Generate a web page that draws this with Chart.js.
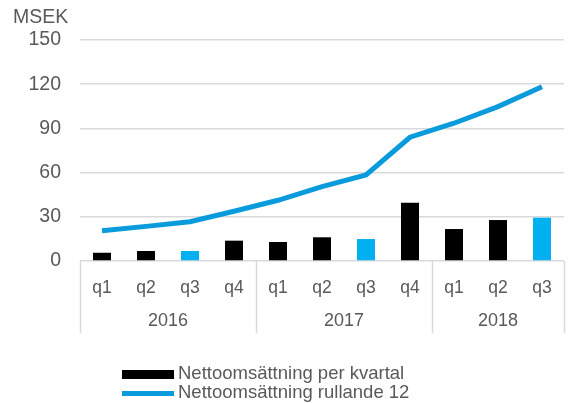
<!DOCTYPE html>
<html lang="sv">
<head>
<meta charset="UTF-8">
<title>Nettoomsättning</title>
<script src="https://cdn.jsdelivr.net/npm/chart.js"></script>
<style>
  body { margin: 0; background: #fff; font-family: "Liberation Sans", Arial, sans-serif; }
  #wrap { position: relative; width: 568px; height: 403px; }
  #unit { position: absolute; left: 13px; top: 5px; font-size: 19.5px; color: #595959; }
  .leg { position: absolute; left: 122px; font-size: 18.5px; color: #595959; line-height: 18px; }
  .leg span { display: inline-block; width: 52px; vertical-align: middle; margin-right: 4px; }
</style>
</head>
<body>
<div id="wrap">
  <canvas id="chart" width="568" height="403"></canvas>
  <div id="unit">MSEK</div>
  <div class="leg" style="top:364px"><span style="height:9px;background:#000"></span>Nettoomsättning per kvartal</div>
  <div class="leg" style="top:383px"><span style="height:5px;background:#0a9bdc"></span>Nettoomsättning rullande 12</div>
</div>
<script>
const quarters = ['q1', 'q2', 'q3', 'q4', 'q1', 'q2', 'q3', 'q4', 'q1', 'q2', 'q3'];
const years = ['2016', '2016', '2016', '2016', '2017', '2017', '2017', '2017', '2018', '2018', '2018'];
const perQuarter = [5.6, 6.8, 6.8, 13.8, 12.9, 16.1, 14.9, 39.6, 21.7, 27.8, 29.4];
const rolling12 = [20.6, 23.5, 26.7, 33.8, 41.2, 50.5, 58.4, 84, 93.5, 104.8, 118.3];
const yTicks = [0, 30, 60, 90, 120, 150];

const textColor = '#595959';
const barColors = quarters.map(q => q === 'q3' ? '#00b0f0' : '#000000');

// separators and year labels under the quarter labels
const yearAxis = {
  id: 'yearAxis',
  afterDraw(chart) {
    const ctx = chart.ctx;
    const x = chart.scales.x;
    const top = chart.chartArea.bottom;
    const step = x.getPixelForValue(1) - x.getPixelForValue(0);
    ctx.save();
    ctx.strokeStyle = '#d9d9d9';
    ctx.lineWidth = 1.5;
    let start = 0;
    for (let i = 0; i <= years.length; i++) {
      if (i === years.length || years[i] !== years[start]) {
        const left = x.getPixelForValue(start) - step / 2;
        const right = x.getPixelForValue(i - 1) + step / 2;
        ctx.fillStyle = textColor;
        ctx.font = '18px "Liberation Sans", Arial, sans-serif';
        ctx.textAlign = 'center';
        ctx.textBaseline = 'middle';
        ctx.fillText(years[start], (left + right) / 2, top + 60);
        start = i;
      }
    }
    const edges = [0];
    for (let i = 1; i < years.length; i++) if (years[i] !== years[i - 1]) edges.push(i);
    edges.push(years.length);
    edges.forEach(i => {
      const px = Math.round(x.getPixelForValue(i) - step / 2) + 0.5;
      ctx.beginPath();
      ctx.moveTo(px, top);
      ctx.lineTo(px, top + 72);
      ctx.stroke();
    });
    ctx.restore();
  }
};

new Chart(document.getElementById('chart'), {
  data: {
    labels: quarters,
    datasets: [
      {
        type: 'line',
        label: 'Nettoomsättning rullande 12',
        data: rolling12,
        borderColor: '#0a9bdc',
        borderWidth: 5,
        pointRadius: 0,
        tension: 0,
        order: 0
      },
      {
        type: 'bar',
        label: 'Nettoomsättning per kvartal',
        data: perQuarter,
        backgroundColor: barColors,
        categoryPercentage: 1,
        barPercentage: 0.41,
        order: 1
      }
    ]
  },
  options: {
    responsive: false,
    animation: false,
    layout: { padding: { top: 40, right: 4, bottom: 62, left: 0 } },
    plugins: {
      legend: { display: false },
      tooltip: { enabled: false }
    },
    scales: {
      x: {
        grid: { display: false },
        border: { display: false },
        ticks: { color: textColor, font: { size: 17.5, family: '"Liberation Sans", Arial' }, padding: 9 },
        afterFit: s => { s.height = 80; }
      },
      y: {
        min: 0,
        max: 150,
        afterBuildTicks: s => { s.ticks = yTicks.map(v => ({ value: v })); },
        grid: { color: '#d9d9d9', lineWidth: 1.5, drawTicks: false },
        border: { display: false },
        ticks: { color: textColor, font: { size: 19.5, family: '"Liberation Sans", Arial' }, padding: 19 },
        afterFit: s => { s.width = 80; }
      }
    }
  },
  plugins: [yearAxis]
});
</script>
</body>
</html>
